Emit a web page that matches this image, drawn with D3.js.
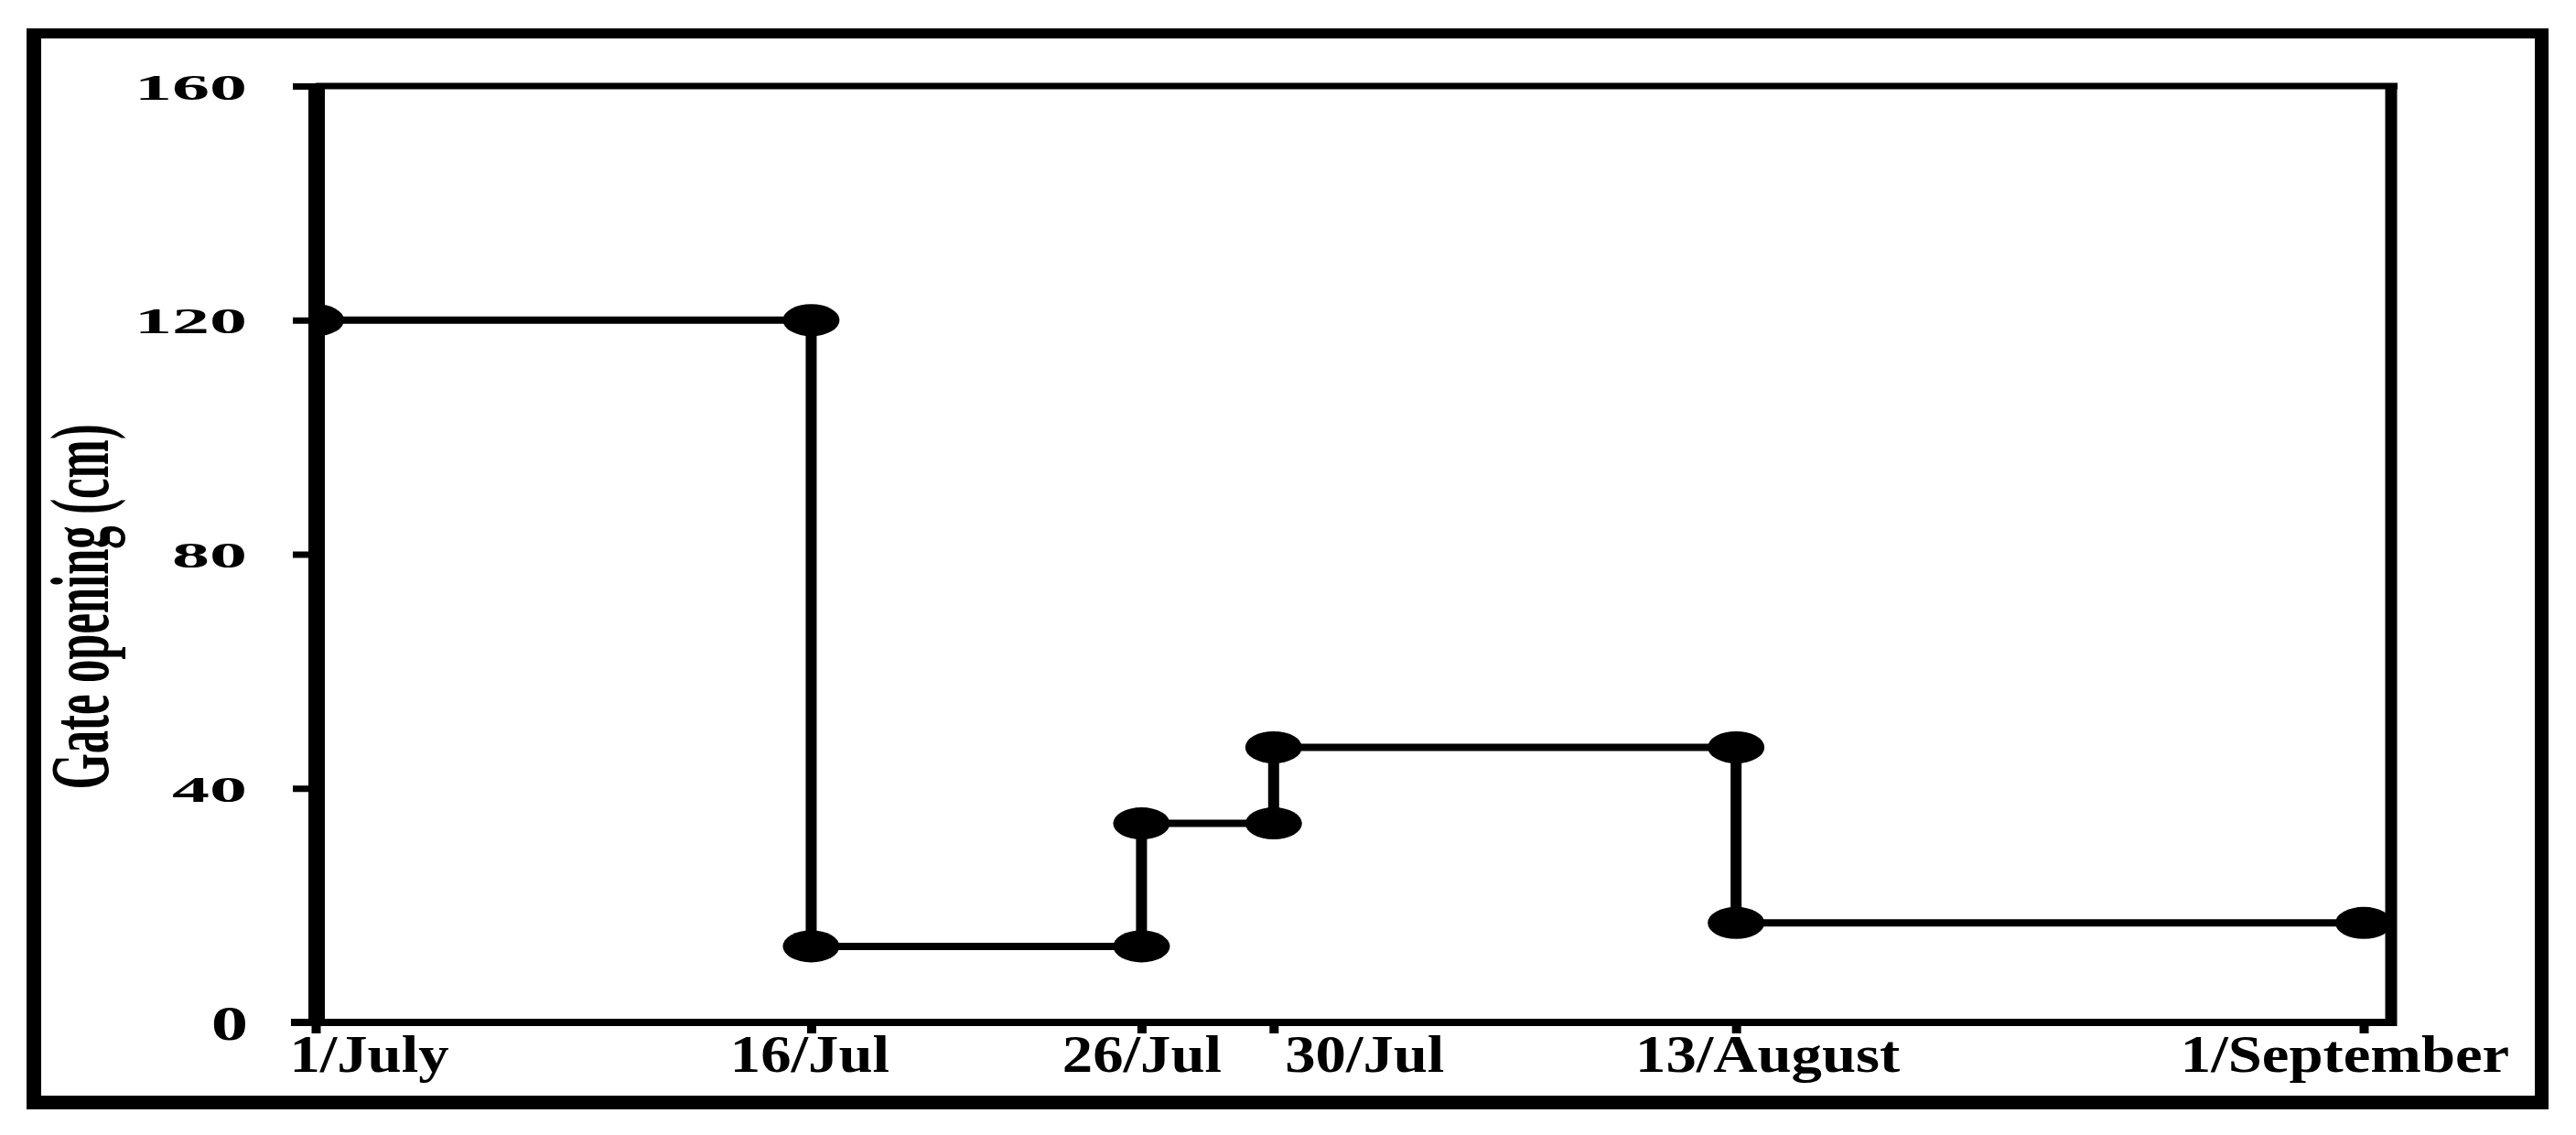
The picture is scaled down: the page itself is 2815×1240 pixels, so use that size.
<!DOCTYPE html>
<html>
<head>
<meta charset="utf-8">
<script src="https://cdn.jsdelivr.net/npm/d3@7/dist/d3.min.js"></script>
<style>
  html, body { margin: 0; padding: 0; background: #fff; }
  svg { display: block; }
  text { font-family: "Times New Roman", "Liberation Serif", serif; font-weight: bold; fill: #000; }
</style>
</head>
<body>
<script>
// ---------------- DATA ----------------
const changeDates  = ["2019-07-01", "2019-07-16", "2019-07-26", "2019-07-30", "2019-08-13"];
const endDate      = "2019-09-01";
const gateOpening  = [120, 13, 34, 47, 17];          // cm, value held from each change date
const tickDates    = ["2019-07-01", "2019-07-16", "2019-07-26", "2019-07-30", "2019-08-13", "2019-09-01"];
const tickLabels   = ["1/July", "16/Jul", "26/Jul", "30/Jul", "13/August", "1/September"];
const yTickValues  = [0, 40, 80, 120, 160];
const yTitle       = "Gate opening (cm)";

// ---------------- LAYOUT ----------------
const W = 2815, H = 1240;
const labelNudge = [58, -2, 0, 99, 34, -21];   // horizontal nudge of x tick labels

const parse = d3.utcParse("%Y-%m-%d");
const x = d3.scaleUtc().domain([parse(tickDates[0]), parse(endDate)]).range([345, 2583]);
const y = d3.scaleLinear().domain([0, 160]).range([1117, 94]);

const svg = d3.select("body").append("svg").attr("width", W).attr("height", H);
svg.append("rect").attr("width", W).attr("height", H).attr("fill", "#fff");

// Outer frame
const outer = svg.append("g").attr("fill", "#000");
outer.append("rect").attr("x", 29).attr("y", 31).attr("width", 16).attr("height", 1181);
outer.append("rect").attr("x", 29).attr("y", 31).attr("width", 2756).attr("height", 11);
outer.append("rect").attr("x", 2770).attr("y", 31).attr("width", 15).attr("height", 1181);
outer.append("rect").attr("x", 29).attr("y", 1197).attr("width", 2756).attr("height", 15);

const x0 = x(parse(tickDates[0]));
const xRight = 2613;

// clip for markers (plot area to the right of the y axis)
svg.append("clipPath").attr("id", "plotclip")
  .append("rect").attr("x", x0 - 8).attr("y", 0).attr("width", xRight - x0 + 8).attr("height", H);

// ---------------- SERIES ----------------
const starts = changeDates.map(parse);
const ends = starts.slice(1).concat([parse(endDate)]);

const series = svg.append("g").attr("stroke", "#000").attr("fill", "none");
// horizontal segments
series.selectAll("line.h").data(gateOpening).join("line").attr("class", "h")
  .attr("x1", (d, i) => x(starts[i])).attr("x2", (d, i) => x(ends[i]))
  .attr("y1", d => y(d)).attr("y2", d => y(d))
  .attr("stroke-width", 8);
// vertical segments
series.selectAll("line.v").data(gateOpening.slice(1)).join("line").attr("class", "v")
  .attr("x1", (d, i) => x(starts[i + 1])).attr("x2", (d, i) => x(starts[i + 1]))
  .attr("y1", (d, i) => y(gateOpening[i])).attr("y2", d => y(d))
  .attr("stroke-width", 12);

// markers at both ends of each horizontal segment
const pts = [];
gateOpening.forEach((v, i) => { pts.push([starts[i], v]); pts.push([ends[i], v]); });
svg.append("g").attr("clip-path", "url(#plotclip)")
  .selectAll("ellipse").data(pts).join("ellipse")
  .attr("cx", d => x(d[0])).attr("cy", d => y(d[1]))
  .attr("rx", 31).attr("ry", 17.5).attr("fill", "#000");

// ---------------- AXES / PLOT BOX ----------------
const box = svg.append("g").attr("stroke", "#000");
box.append("line").attr("x1", x0).attr("x2", xRight + 7).attr("y1", y(160)).attr("y2", y(160)).attr("stroke-width", 7);
box.append("line").attr("x1", xRight).attr("x2", xRight).attr("y1", y(160) - 3).attr("y2", y(0) + 4).attr("stroke-width", 13);
box.append("line").attr("x1", 318).attr("x2", xRight + 6).attr("y1", y(0)).attr("y2", y(0)).attr("stroke-width", 8);
box.append("line").attr("x1", x0 + 1).attr("x2", x0 + 1).attr("y1", y(160) - 3).attr("y2", y(0) + 4).attr("stroke-width", 18);

// Y axis ticks & labels
const yAxis = svg.append("g").attr("transform", `translate(${x0 + 1},0)`)
  .call(d3.axisLeft(y).tickValues(yTickValues).tickSize(26).tickFormat(d3.format("d")));
yAxis.select(".domain").remove();
yAxis.selectAll(".tick line").attr("stroke", "#000").attr("stroke-width", 7)
  .filter(d => d === 0).remove();
yAxis.selectAll(".tick text")
  .attr("x", null).attr("dy", null)
  .style("font-family", null)
  .attr("text-anchor", "end")
  .attr("font-size", d => d === 0 ? 52 : 41)
  .attr("transform", d => d === 0
        ? `translate(${271 - (x0 + 1)},18) scale(1.55,1)`
        : `translate(${270 - (x0 + 1)},14) scale(2,1)`);

// X axis ticks & labels
const xAxis = svg.append("g").attr("transform", `translate(0,${y(0)})`)
  .call(d3.axisBottom(x).tickValues(tickDates.map(parse)).tickSize(12).tickFormat((d, i) => tickLabels[i]));
xAxis.select(".domain").remove();
xAxis.selectAll(".tick line").attr("stroke", "#000").attr("stroke-width", 10);
xAxis.selectAll(".tick text")
  .attr("y", null).attr("dy", null)
  .style("font-family", null)
  .attr("font-size", 58)
  .attr("text-anchor", "middle")
  .attr("transform", (d, i) => `translate(${labelNudge[i]},54) scale(1.15,1)`);

// Y title
svg.append("text")
  .attr("transform", "translate(118,663) rotate(-90) scale(0.55,1)")
  .attr("text-anchor", "middle")
  .attr("font-size", 92)
  .text(yTitle);
</script>
</body>
</html>
